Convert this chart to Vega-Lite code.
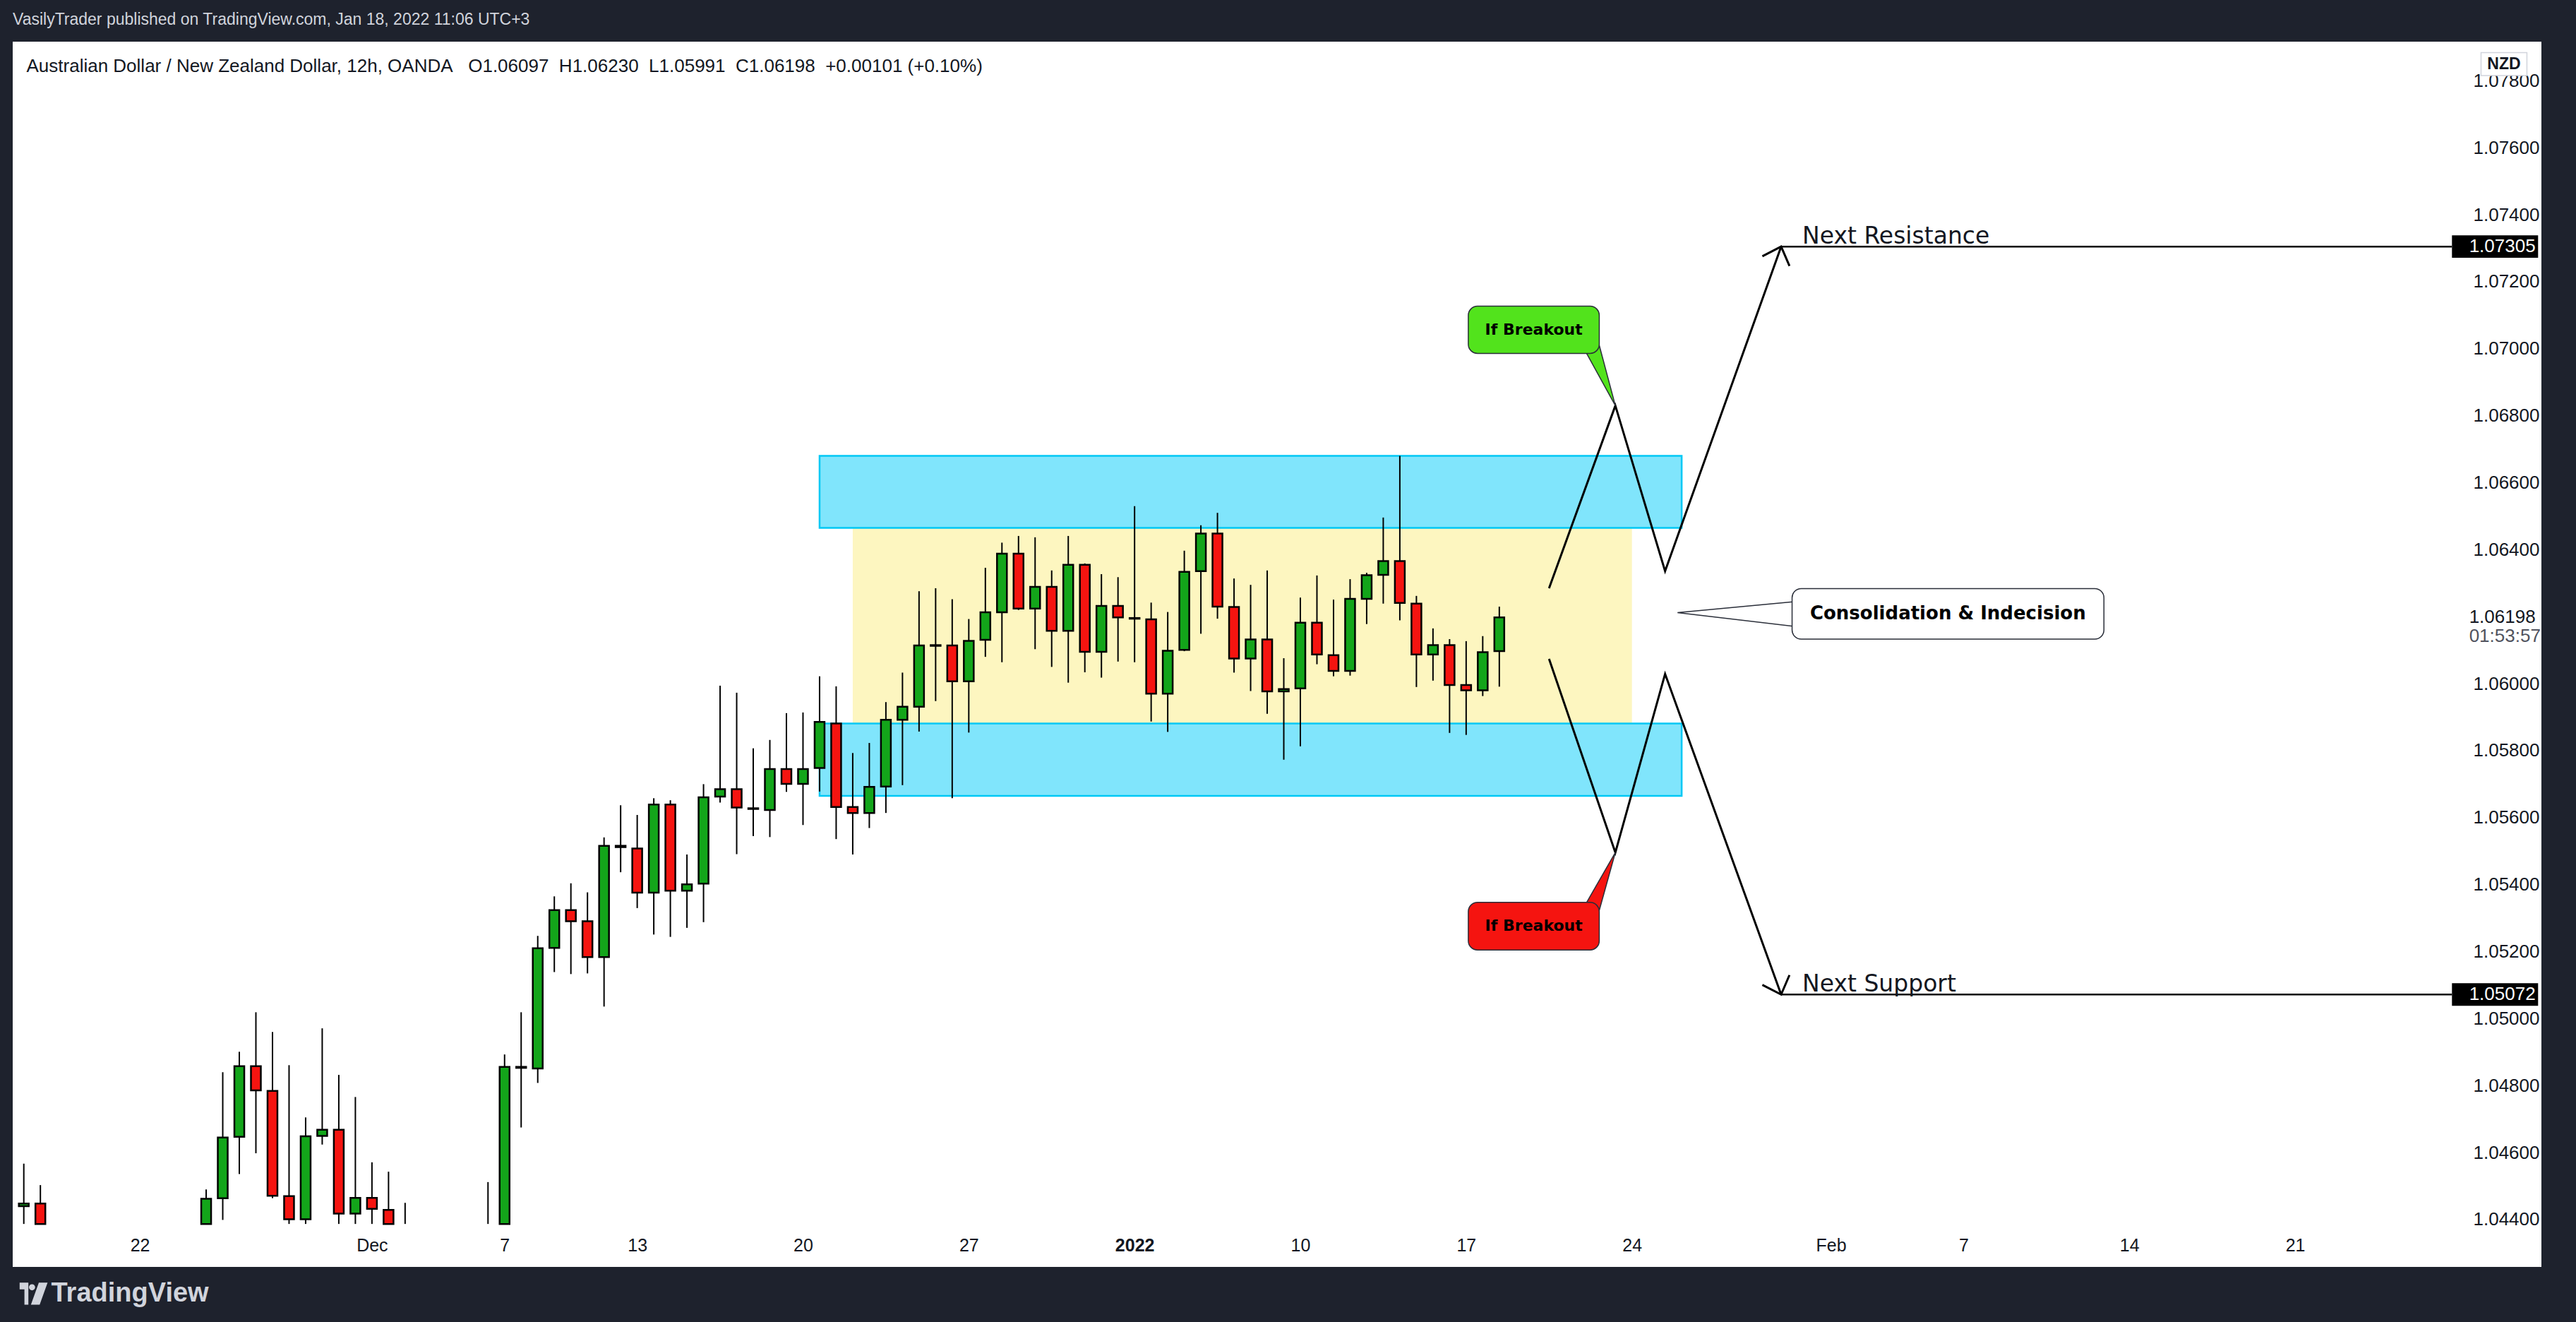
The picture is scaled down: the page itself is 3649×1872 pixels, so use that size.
{
  "$schema": "https://vega.github.io/schema/vega-lite/v6.json",
  "width": 3582,
  "height": 1735,
  "autosize": {"type": "none"},
  "padding": {"left": 18, "top": 59, "right": 49, "bottom": 78},
  "background": "#1e222d",
  "config": {"view": {"fill": "#ffffff", "stroke": null}, "font": "Liberation Sans"},
  "title": {
    "text": "VasilyTrader published on TradingView.com, Jan 18, 2022 11:06 UTC+3",
    "anchor": "start", "frame": "group", "offset": 19,
    "fontSize": 23, "fontWeight": "normal", "color": "#d1d4dc", "font": "Liberation Sans"
  },
  "datasets": {
    "candles": [
      {"bar": -7, "open": 1.04440, "high": 1.04567, "low": 1.04387, "close": 1.04448},
      {"bar": -6, "open": 1.04448, "high": 1.04503, "low": 1.04387, "close": 1.04387},
      {"bar": 4, "open": 1.04387, "high": 1.04490, "low": 1.04387, "close": 1.04462},
      {"bar": 5, "open": 1.04464, "high": 1.04840, "low": 1.04399, "close": 1.04645},
      {"bar": 6, "open": 1.04647, "high": 1.04901, "low": 1.04536, "close": 1.04858},
      {"bar": 7, "open": 1.04858, "high": 1.05019, "low": 1.04598, "close": 1.04786},
      {"bar": 8, "open": 1.04784, "high": 1.04960, "low": 1.04464, "close": 1.04471},
      {"bar": 9, "open": 1.04470, "high": 1.04861, "low": 1.04387, "close": 1.04401},
      {"bar": 10, "open": 1.04401, "high": 1.04705, "low": 1.04387, "close": 1.04649},
      {"bar": 11, "open": 1.04650, "high": 1.04971, "low": 1.04624, "close": 1.04668},
      {"bar": 12, "open": 1.04668, "high": 1.04832, "low": 1.04387, "close": 1.04418},
      {"bar": 13, "open": 1.04418, "high": 1.04766, "low": 1.04387, "close": 1.04465},
      {"bar": 14, "open": 1.04465, "high": 1.04571, "low": 1.04387, "close": 1.04432},
      {"bar": 15, "open": 1.04429, "high": 1.04543, "low": 1.04387, "close": 1.04387},
      {"bar": 16, "open": null, "high": 1.04450, "low": 1.04387, "close": null},
      {"bar": 21, "open": null, "high": 1.04512, "low": 1.04387, "close": null},
      {"bar": 22, "open": 1.04387, "high": 1.04893, "low": 1.04387, "close": 1.04856},
      {"bar": 23, "open": 1.04853, "high": 1.05019, "low": 1.04675, "close": 1.04856},
      {"bar": 24, "open": 1.04851, "high": 1.05247, "low": 1.04808, "close": 1.05210},
      {"bar": 25, "open": 1.05211, "high": 1.05365, "low": 1.05139, "close": 1.05324},
      {"bar": 26, "open": 1.05324, "high": 1.05404, "low": 1.05133, "close": 1.05291},
      {"bar": 27, "open": 1.05291, "high": 1.05377, "low": 1.05135, "close": 1.05184},
      {"bar": 28, "open": 1.05184, "high": 1.05541, "low": 1.05036, "close": 1.05516},
      {"bar": 29, "open": 1.05516, "high": 1.05637, "low": 1.05437, "close": 1.05512},
      {"bar": 30, "open": 1.05508, "high": 1.05608, "low": 1.05330, "close": 1.05376},
      {"bar": 31, "open": 1.05376, "high": 1.05658, "low": 1.05251, "close": 1.05639},
      {"bar": 32, "open": 1.05639, "high": 1.05652, "low": 1.05244, "close": 1.05382},
      {"bar": 33, "open": 1.05382, "high": 1.05490, "low": 1.05271, "close": 1.05401},
      {"bar": 34, "open": 1.05403, "high": 1.05700, "low": 1.05288, "close": 1.05661},
      {"bar": 35, "open": 1.05663, "high": 1.05994, "low": 1.05645, "close": 1.05685},
      {"bar": 36, "open": 1.05685, "high": 1.05973, "low": 1.05491, "close": 1.05630},
      {"bar": 37, "open": 1.05628, "high": 1.05807, "low": 1.05545, "close": 1.05626},
      {"bar": 38, "open": 1.05623, "high": 1.05832, "low": 1.05542, "close": 1.05745},
      {"bar": 39, "open": 1.05745, "high": 1.05912, "low": 1.05677, "close": 1.05701},
      {"bar": 40, "open": 1.05701, "high": 1.05914, "low": 1.05578, "close": 1.05745},
      {"bar": 41, "open": 1.05748, "high": 1.06022, "low": 1.05678, "close": 1.05886},
      {"bar": 42, "open": 1.05881, "high": 1.05992, "low": 1.05536, "close": 1.05632},
      {"bar": 43, "open": 1.05632, "high": 1.05793, "low": 1.05490, "close": 1.05614},
      {"bar": 44, "open": 1.05614, "high": 1.05823, "low": 1.05569, "close": 1.05692},
      {"bar": 45, "open": 1.05693, "high": 1.05945, "low": 1.05614, "close": 1.05892},
      {"bar": 46, "open": 1.05892, "high": 1.06033, "low": 1.05697, "close": 1.05931},
      {"bar": 47, "open": 1.05931, "high": 1.06276, "low": 1.05857, "close": 1.06114},
      {"bar": 48, "open": 1.06113, "high": 1.06285, "low": 1.05948, "close": 1.06115},
      {"bar": 49, "open": 1.06114, "high": 1.06252, "low": 1.05658, "close": 1.06007},
      {"bar": 50, "open": 1.06007, "high": 1.06193, "low": 1.05854, "close": 1.06128},
      {"bar": 51, "open": 1.06131, "high": 1.06346, "low": 1.06080, "close": 1.06213},
      {"bar": 52, "open": 1.06213, "high": 1.06421, "low": 1.06064, "close": 1.06388},
      {"bar": 53, "open": 1.06388, "high": 1.06441, "low": 1.06220, "close": 1.06224},
      {"bar": 54, "open": 1.06224, "high": 1.06437, "low": 1.06103, "close": 1.06289},
      {"bar": 55, "open": 1.06289, "high": 1.06338, "low": 1.06050, "close": 1.06158},
      {"bar": 56, "open": 1.06158, "high": 1.06441, "low": 1.06003, "close": 1.06355},
      {"bar": 57, "open": 1.06355, "high": 1.06359, "low": 1.06034, "close": 1.06095},
      {"bar": 58, "open": 1.06095, "high": 1.06327, "low": 1.06018, "close": 1.06232},
      {"bar": 59, "open": 1.06232, "high": 1.06318, "low": 1.06066, "close": 1.06198},
      {"bar": 60, "open": 1.06196, "high": 1.06530, "low": 1.06064, "close": 1.06194},
      {"bar": 61, "open": 1.06192, "high": 1.06242, "low": 1.05887, "close": 1.05970},
      {"bar": 62, "open": 1.05970, "high": 1.06214, "low": 1.05856, "close": 1.06098},
      {"bar": 63, "open": 1.06101, "high": 1.06397, "low": 1.06097, "close": 1.06334},
      {"bar": 64, "open": 1.06336, "high": 1.06473, "low": 1.06149, "close": 1.06448},
      {"bar": 65, "open": 1.06448, "high": 1.06510, "low": 1.06194, "close": 1.06230},
      {"bar": 66, "open": 1.06229, "high": 1.06314, "low": 1.06033, "close": 1.06075},
      {"bar": 67, "open": 1.06075, "high": 1.06295, "low": 1.05978, "close": 1.06132},
      {"bar": 68, "open": 1.06132, "high": 1.06338, "low": 1.05910, "close": 1.05977},
      {"bar": 69, "open": 1.05977, "high": 1.06076, "low": 1.05773, "close": 1.05984},
      {"bar": 70, "open": 1.05986, "high": 1.06257, "low": 1.05813, "close": 1.06182},
      {"bar": 71, "open": 1.06182, "high": 1.06323, "low": 1.06058, "close": 1.06087},
      {"bar": 72, "open": 1.06085, "high": 1.06251, "low": 1.06022, "close": 1.06038},
      {"bar": 73, "open": 1.06038, "high": 1.06312, "low": 1.06024, "close": 1.06253},
      {"bar": 74, "open": 1.06253, "high": 1.06331, "low": 1.06178, "close": 1.06324},
      {"bar": 75, "open": 1.06325, "high": 1.06496, "low": 1.06239, "close": 1.06366},
      {"bar": 76, "open": 1.06366, "high": 1.06680, "low": 1.06189, "close": 1.06241},
      {"bar": 77, "open": 1.06239, "high": 1.06262, "low": 1.05990, "close": 1.06087},
      {"bar": 78, "open": 1.06087, "high": 1.06165, "low": 1.06009, "close": 1.06115},
      {"bar": 79, "open": 1.06115, "high": 1.06133, "low": 1.05853, "close": 1.05996},
      {"bar": 80, "open": 1.05996, "high": 1.06127, "low": 1.05847, "close": 1.05980},
      {"bar": 81, "open": 1.05980, "high": 1.06142, "low": 1.05963, "close": 1.06094},
      {"bar": 82, "open": 1.06097, "high": 1.06230, "low": 1.05991, "close": 1.06198}
    ],
    "zones": [
      {"kind": "range", "bar": 43, "bar2": 90, "price": 1.05881, "price2": 1.06465},
      {"kind": "resistance", "bar": 41, "bar2": 93, "price": 1.06465, "price2": 1.06680},
      {"kind": "support", "bar": 41, "bar2": 93, "price": 1.05665, "price2": 1.05881}
    ],
    "paths": [
      {"path": "up", "k": 0, "bar": 85, "price": 1.06285},
      {"path": "up", "k": 1, "bar": 89, "price": 1.06830},
      {"path": "up", "k": 2, "bar": 92, "price": 1.06336},
      {"path": "up", "k": 3, "bar": 99, "price": 1.07305},
      {"path": "down", "k": 0, "bar": 85, "price": 1.06074},
      {"path": "down", "k": 1, "bar": 89, "price": 1.05496},
      {"path": "down", "k": 2, "bar": 92, "price": 1.06029},
      {"path": "down", "k": 3, "bar": 99, "price": 1.05072}
    ],
    "levels": [
      {"label": "Next Resistance", "bar": 99, "price": 1.07305, "text": "1.07305"},
      {"label": "Next Support", "bar": 99, "price": 1.05072, "text": "1.05072"}
    ],
    "tails": [
      {"kind": "up", "k": 0, "bar": 87.2, "price": 1.06992},
      {"kind": "up", "k": 1, "bar": 89, "price": 1.06830},
      {"kind": "up", "k": 2, "bar": 87.95, "price": 1.07025},
      {"kind": "down", "k": 0, "bar": 87.2, "price": 1.05341},
      {"kind": "down", "k": 1, "bar": 89, "price": 1.05496},
      {"kind": "down", "k": 2, "bar": 87.95, "price": 1.05309},
      {"kind": "info", "k": 0, "bar": 99.8, "price": 1.06245},
      {"kind": "info", "k": 1, "bar": 92.75, "price": 1.06212},
      {"kind": "info", "k": 2, "bar": 99.8, "price": 1.06171}
    ],
    "callouts": [
      {"kind": "up", "text": "If Breakout", "bar": 80.13, "bar2": 88.03, "price": 1.07127, "price2": 1.06986, "mid": 84.08, "pmid": 1.07057},
      {"kind": "down", "text": "If Breakout", "bar": 80.13, "bar2": 88.03, "price": 1.05347, "price2": 1.05205, "mid": 84.08, "pmid": 1.05276},
      {"kind": "info", "text": "Consolidation & Indecision", "bar": 99.66, "bar2": 118.47, "price": 1.06284, "price2": 1.06133, "mid": 109.06, "pmid": 1.06208}
    ],
    "lastprice": [
      {"text": "1.06198", "price": 1.06198, "kind": "price"},
      {"text": "01:53:57", "price": 1.06142, "kind": "timer"}
    ]
  },
  "layer": [
    {
      "data": {"name": "zones"},
      "transform": [{"filter": "datum.kind == 'range'"}],
      "mark": {"type": "rect", "fill": "#fdf6c0"},
      "encoding": {
        "x": {"field": "bar", "type": "quantitative",
          "scale": {"domain": [-7.456, 144.645], "nice": false, "zero": false},
          "axis": {
            "values": [0, 14, 22, 30, 40, 50, 60, 70, 80, 90, 102, 110, 120, 130],
            "labelExpr": "{'0':'22','14':'Dec','22':'7','30':'13','40':'20','50':'27','60':'2022','70':'10','80':'17','90':'24','102':'Feb','110':'7','120':'14','130':'21'}[datum.value]",
            "offset": -61, "grid": false, "ticks": false, "domain": false,
            "labelFont": "Liberation Sans", "labelFontSize": 25, "labelColor": "#131722",
            "labelFontWeight": {"condition": {"test": "datum.value == 60", "value": "bold"}, "value": "normal"},
            "labelPadding": 18, "labelFlush": false, "labelOverlap": false, "labelBound": false,
            "title": "TradingView", "titleX": 54, "titleY": 98, "titleAlign": "left", "titleBaseline": "middle",
            "titleFont": "Liberation Sans", "titleFontSize": 38, "titleFontWeight": "bold", "titleColor": "#d1d4dc"
          }
        },
        "x2": {"field": "bar2"},
        "y": {"field": "price", "type": "quantitative",
          "scale": {"domain": [1.042587, 1.079167], "nice": false, "zero": false},
          "axis": {
            "orient": "right", "offset": -128,
            "values": [1.044, 1.046, 1.048, 1.05, 1.052, 1.054, 1.056, 1.058, 1.06, 1.064, 1.066, 1.068, 1.07, 1.072, 1.074, 1.076, 1.078],
            "format": ".5f", "grid": false, "ticks": false, "domain": false,
            "labelFont": "Liberation Sans", "labelFontSize": 26, "labelColor": "#131722",
            "labelPadding": 31, "labelAlign": "left", "labelOverlap": false, "labelBound": false, "labelFlush": false,
            "title": "Australian Dollar / New Zealand Dollar, 12h, OANDA\u00a0\u00a0\u00a0O1.06097\u00a0\u00a0H1.06230\u00a0\u00a0L1.05991\u00a0\u00a0C1.06198\u00a0\u00a0+0.00101 (+0.10%)",
            "titleX": -3435, "titleY": 34, "titleAngle": 0, "titleAlign": "left", "titleBaseline": "middle",
            "titleFont": "Liberation Sans", "titleFontSize": 26, "titleFontWeight": "normal", "titleColor": "#131722"
          }
        },
        "y2": {"field": "price2"}
      }
    },
    {
      "data": {"name": "zones"},
      "transform": [{"filter": "datum.kind != 'range'"}],
      "mark": {"type": "rect", "fill": "#80e5fc", "stroke": "#00c8f5", "strokeWidth": 2.5},
      "encoding": {
        "x": {"field": "bar", "type": "quantitative", "scale": {"domain": [-7.456, 144.645], "nice": false, "zero": false}},
        "x2": {"field": "bar2"},
        "y": {"field": "price", "type": "quantitative", "scale": {"domain": [1.042587, 1.079167], "nice": false, "zero": false}},
        "y2": {"field": "price2"}
      }
    },
    {
      "data": {"name": "candles"},
      "mark": {"type": "rule", "stroke": "#000000", "strokeWidth": 2},
      "encoding": {
        "x": {"field": "bar", "type": "quantitative", "scale": {"domain": [-7.456, 144.645], "nice": false, "zero": false}},
        "y": {"field": "low", "type": "quantitative", "scale": {"domain": [1.042587, 1.079167], "nice": false, "zero": false}},
        "y2": {"field": "high"}
      }
    },
    {
      "data": {"name": "candles"},
      "mark": {"type": "bar", "width": 14, "stroke": "#000000", "strokeWidth": 2.5},
      "encoding": {
        "x": {"field": "bar", "type": "quantitative", "scale": {"domain": [-7.456, 144.645], "nice": false, "zero": false}},
        "y": {"field": "open", "type": "quantitative", "scale": {"domain": [1.042587, 1.079167], "nice": false, "zero": false}},
        "y2": {"field": "close"},
        "fill": {"condition": {"test": "datum.close >= datum.open", "value": "#13a51a"}, "value": "#f51410"}
      }
    },
    {
      "data": {"name": "paths"},
      "mark": {"type": "line", "stroke": "#000000", "strokeWidth": 3},
      "encoding": {
        "x": {"field": "bar", "type": "quantitative", "scale": {"domain": [-7.456, 144.645], "nice": false, "zero": false}},
        "y": {"field": "price", "type": "quantitative", "scale": {"domain": [1.042587, 1.079167], "nice": false, "zero": false}},
        "detail": {"field": "path", "type": "nominal"},
        "order": {"field": "k", "type": "quantitative"}
      }
    },
    {
      "data": {"name": "paths"},
      "transform": [{"filter": "datum.k == 3"}],
      "mark": {"type": "point", "shape": "M-0.68,0.73L0,0L0.68,0.73", "size": 3600, "filled": false, "fill": null, "stroke": "#000000", "strokeWidth": 3, "opacity": 1},
      "encoding": {
        "x": {"field": "bar", "type": "quantitative", "scale": {"domain": [-7.456, 144.645], "nice": false, "zero": false}},
        "y": {"field": "price", "type": "quantitative", "scale": {"domain": [1.042587, 1.079167], "nice": false, "zero": false}},
        "angle": {"condition": {"test": "datum.path == 'up'", "value": 19.7}, "value": 160.2}
      }
    },
    {
      "data": {"name": "levels"},
      "mark": {"type": "rule", "stroke": "#000000", "strokeWidth": 2.5},
      "encoding": {
        "x": {"field": "bar", "type": "quantitative", "scale": {"domain": [-7.456, 144.645], "nice": false, "zero": false}},
        "x2": {"datum": 139.46},
        "y": {"field": "price", "type": "quantitative", "scale": {"domain": [1.042587, 1.079167], "nice": false, "zero": false}}
      }
    },
    {
      "data": {"name": "levels"},
      "mark": {"type": "point", "shape": "M-1,-0.262L1,-0.262L1,0.262L-1,0.262Z", "size": 14884, "filled": true, "fill": "#000000", "stroke": null, "opacity": 1},
      "encoding": {
        "x": {"datum": 142.06, "type": "quantitative", "scale": {"domain": [-7.456, 144.645], "nice": false, "zero": false}},
        "y": {"field": "price", "type": "quantitative", "scale": {"domain": [1.042587, 1.079167], "nice": false, "zero": false}}
      }
    },
    {
      "data": {"name": "levels"},
      "mark": {"type": "text", "align": "left", "baseline": "middle", "font": "Liberation Sans", "fontSize": 26, "fill": "#ffffff"},
      "encoding": {
        "x": {"datum": 140.5, "type": "quantitative"},
        "y": {"field": "price", "type": "quantitative"},
        "text": {"field": "text"}
      }
    },
    {
      "data": {"name": "levels"},
      "mark": {"type": "text", "align": "left", "baseline": "alphabetic", "font": "DejaVu Sans", "fontSize": 33, "fill": "#131722", "dx": 30, "dy": -4},
      "encoding": {
        "x": {"field": "bar", "type": "quantitative"},
        "y": {"field": "price", "type": "quantitative"},
        "text": {"field": "label"}
      }
    },
    {
      "data": {"name": "tails"},
      "mark": {"type": "line", "interpolate": "linear-closed", "stroke": "#2a2e39", "strokeWidth": 1.5},
      "encoding": {
        "x": {"field": "bar", "type": "quantitative"},
        "y": {"field": "price", "type": "quantitative"},
        "detail": {"field": "kind", "type": "nominal"},
        "order": {"field": "k", "type": "quantitative"},
        "fill": {"condition": [{"test": "datum.kind == 'up'", "value": "#52e31c"}, {"test": "datum.kind == 'down'", "value": "#f51410"}], "value": "#ffffff"}
      }
    },
    {
      "data": {"name": "callouts"},
      "mark": {"type": "rect", "cornerRadius": 13, "stroke": "#2a2e39", "strokeWidth": 1.5},
      "encoding": {
        "x": {"field": "bar", "type": "quantitative"},
        "x2": {"field": "bar2"},
        "y": {"field": "price", "type": "quantitative"},
        "y2": {"field": "price2"},
        "fill": {"condition": [{"test": "datum.kind == 'up'", "value": "#52e31c"}, {"test": "datum.kind == 'down'", "value": "#f51410"}], "value": "#ffffff"}
      }
    },
    {
      "data": {"name": "callouts"},
      "mark": {"type": "text", "align": "center", "baseline": "middle", "font": "DejaVu Sans", "fontWeight": "bold", "fill": "#000000"},
      "encoding": {
        "x": {"field": "mid", "type": "quantitative"},
        "y": {"field": "pmid", "type": "quantitative"},
        "text": {"field": "text"},
        "size": {"condition": {"test": "datum.kind == 'info'", "value": 26}, "value": 22}
      }
    },
    {
      "data": {"values": [{"unit": "NZD", "price": 1.0785}]},
      "mark": {"type": "point", "shape": "M-1,-0.5L1,-0.5L1,0.5L-1,0.5Z", "size": 4225, "filled": true, "fill": "#ffffff", "stroke": "#d1d4dc", "strokeWidth": 1.5, "opacity": 1},
      "encoding": {
        "x": {"datum": 142.6, "type": "quantitative"},
        "y": {"field": "price", "type": "quantitative"}
      }
    },
    {
      "data": {"values": [{"unit": "NZD", "price": 1.0785}]},
      "mark": {"type": "text", "align": "center", "baseline": "middle", "font": "Liberation Sans", "fontWeight": "bold", "fontSize": 23, "fill": "#131722"},
      "encoding": {
        "x": {"datum": 142.6, "type": "quantitative"},
        "y": {"field": "price", "type": "quantitative"},
        "text": {"field": "unit"}
      }
    },
    {
      "data": {"name": "lastprice"},
      "mark": {"type": "text", "align": "left", "baseline": "middle", "font": "Liberation Sans", "fontSize": 26},
      "encoding": {
        "x": {"datum": 140.5, "type": "quantitative"},
        "y": {"field": "price", "type": "quantitative"},
        "text": {"field": "text"},
        "fill": {"condition": {"test": "datum.kind == 'price'", "value": "#131722"}, "value": "#50535e"}
      }
    },
    {
      "data": {"values": [{"brand": "TradingView", "price": 1.04179}]},
      "mark": {"type": "point", "shape": "M-1,-0.78H-0.38V0.78H-0.66V-0.3H-1Z M-0.34,-0.45A0.22,0.22 0 1,0 0.1,-0.45A0.22,0.22 0 1,0 -0.34,-0.45Z M0.36,-0.78H0.98L0.42,0.78H-0.2Z", "size": 1600, "filled": true, "fill": "#d1d4dc", "stroke": null, "opacity": 1},
      "encoding": {
        "x": {"datum": -6.4, "type": "quantitative"},
        "y": {"field": "price", "type": "quantitative"}
      }
    }
  ]
}
